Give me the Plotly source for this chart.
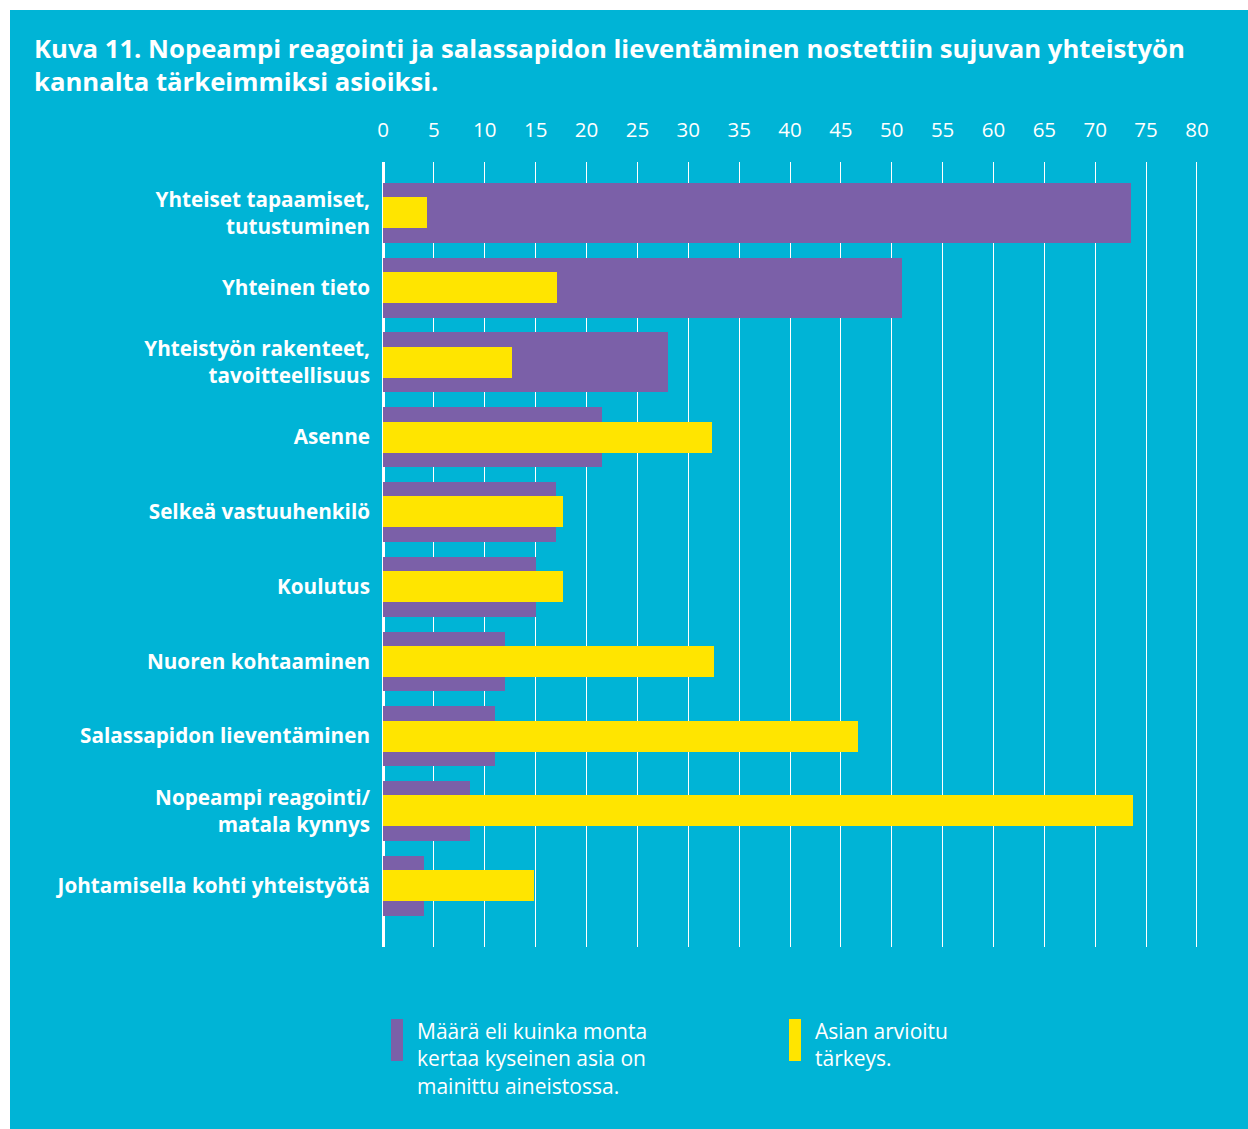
import plotly.graph_objects as go

categories = [
    "Yhteiset tapaamiset,<br>tutustuminen",
    "Yhteinen tieto",
    "Yhteistyön rakenteet,<br>tavoitteellisuus",
    "Asenne",
    "Selkeä vastuuhenkilö",
    "Koulutus",
    "Nuoren kohtaaminen",
    "Salassapidon lieventäminen",
    "Nopeampi reagointi/<br>matala kynnys",
    "Johtamisella kohti yhteistyötä",
]
maara = [73.5, 51, 28, 21.5, 17, 15, 12, 11, 8.5, 4]
tarkeys = [4.3, 17.1, 12.7, 32.3, 17.7, 17.7, 32.5, 46.7, 73.7, 14.8]
tick_vals = list(range(0, 81, 5))
title_text = ("Kuva 11. Nopeampi reagointi ja salassapidon lieventäminen nostettiin sujuvan yhteistyön"
              "<br>kannalta tärkeimmiksi asioiksi.")
legend_purple = "Määrä eli kuinka monta<br>kertaa kyseinen asia on<br>mainittu aineistossa."
legend_yellow = "Asian arvioitu<br>tärkeys."

CYAN = "#00B4D6"
PURPLE = "#7B60A8"
YELLOW = "#FFE500"
FONT = "Open Sans"

W, H = 1248, 1129
L, R, T, B = 381, 49, 162, 182
pw, ph = W - L - R, H - T - B


def px(x):
    return (x - L) / pw


def py(y):
    return (H - B - y) / ph


fig = go.Figure()
fig.add_trace(go.Bar(y=categories, x=maara, orientation="h", width=0.8,
                     marker=dict(color=PURPLE, line=dict(width=0)), showlegend=False))
fig.add_trace(go.Bar(y=categories, x=tarkeys, orientation="h", width=0.415,
                     marker=dict(color=YELLOW, line=dict(width=0)), showlegend=False))

shapes = [
    dict(type="rect", xref="paper", yref="paper", x0=px(10), x1=px(W + 5), y0=py(10), y1=py(H + 5),
         fillcolor=CYAN, line=dict(width=0), layer="below"),
    dict(type="rect", xref="paper", yref="paper", x0=px(391), x1=px(403), y0=py(1019), y1=py(1061),
         fillcolor=PURPLE, line=dict(width=0)),
    dict(type="rect", xref="paper", yref="paper", x0=px(789), x1=px(801), y0=py(1019), y1=py(1061),
         fillcolor=YELLOW, line=dict(width=0)),
]

annotations = [
    dict(text=title_text, xref="paper", yref="paper", x=px(32), y=py(29), xanchor="left", yanchor="top",
         align="left", showarrow=False, font=dict(family=FONT, size=25.7, color="white", weight="bold")),
    dict(text=legend_purple, xref="paper", yref="paper", x=px(415), y=py(1015), xanchor="left", yanchor="top",
         align="left", showarrow=False, font=dict(family=FONT, size=21, color="white")),
    dict(text=legend_yellow, xref="paper", yref="paper", x=px(813), y=py(1015), xanchor="left", yanchor="top",
         align="left", showarrow=False, font=dict(family=FONT, size=21, color="white")),
]

fig.update_layout(
    width=W, height=H,
    margin=dict(l=L, r=R, t=T, b=B, pad=0),
    paper_bgcolor="white",
    plot_bgcolor="rgba(0,0,0,0)",
    barmode="overlay",
    bargap=0,
    shapes=shapes,
    annotations=annotations,
    xaxis=dict(side="top", range=[-0.2, 80.2], tickvals=tick_vals, ticks="",
               showgrid=True, gridcolor="white", gridwidth=1.3,
               zeroline=True, zerolinecolor="white", zerolinewidth=2.5,
               showline=False, ticklabelstandoff=20,
               tickfont=dict(family=FONT, size=20.5, color="white")),
    yaxis=dict(type="category", range=[9.82, -0.68], ticks="", showgrid=False, zeroline=False,
               showline=False, ticklabelstandoff=10,
               tickfont=dict(family=FONT, size=20.7, color="white", weight="bold")),
)

fig.write_html("out.html")
